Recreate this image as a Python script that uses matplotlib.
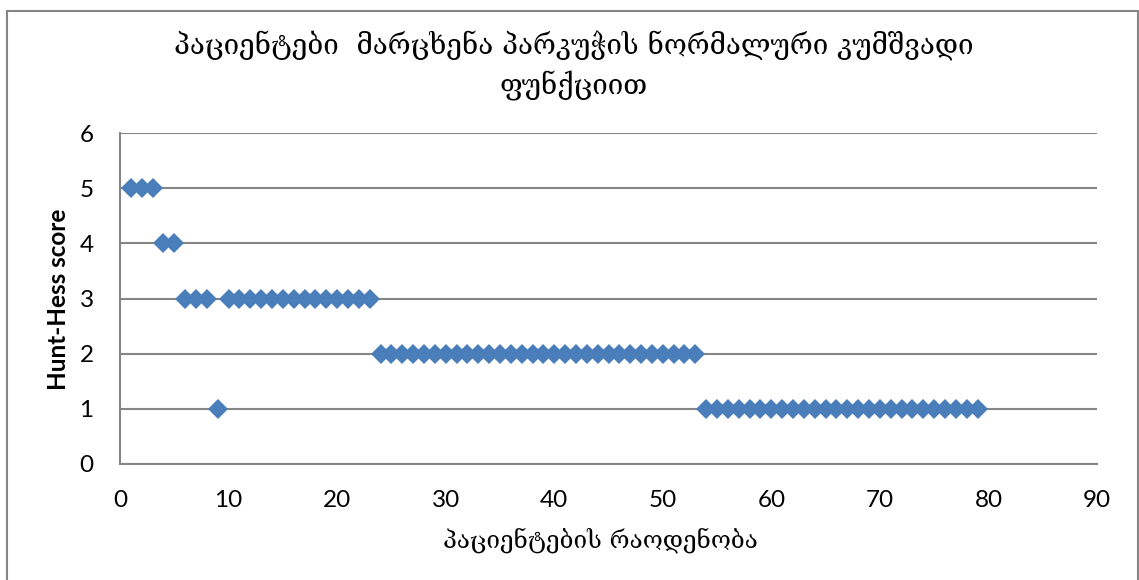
import matplotlib
matplotlib.use('Agg')
import matplotlib.pyplot as plt
from matplotlib.patches import Rectangle

# patient index and Hunt-Hess score
patients = list(range(1, 80))
scores = ([5, 5, 5] + [4, 4] + [3, 3, 3] + [1] + [3] * 14 +
          [2] * 30 + [1] * 26)

title = 'პაციენტები  მარცხენა პარკუჭის ნორმალური კუმშვადი\nფუნქციით'
xlabel = 'პაციენტების რაოდენობა'
ylabel = 'Hunt-Hess score'

W, H = 1139, 580
fig = plt.figure(figsize=(W / 100, H / 100), dpi=100)
ax = fig.add_axes([120 / W, 1 - 464 / H, (1097 - 120) / W, (464 - 133) / H])

grid_col = '#868686'
ax.set_xlim(0, 90)
ax.set_ylim(0, 6)
ax.set_xticks(range(0, 91, 10))
ax.set_yticks(range(0, 7))
ax.grid(axis='y', color=grid_col, lw=1.5)
ax.set_axisbelow(True)
for s in ['top', 'right']:
    ax.spines[s].set_visible(False)
for s in ['left', 'bottom']:
    ax.spines[s].set_color(grid_col)
    ax.spines[s].set_linewidth(1.5)
ax.tick_params(length=0, labelsize=17.5)
ax.tick_params(axis='x', pad=19)
ax.tick_params(axis='y', pad=19)
for lab in ax.get_xticklabels() + ax.get_yticklabels():
    lab.set_family('Lato')

ax.plot(patients, scores, ls='none', marker='D', ms=10.5, mew=0,
        color='#4a7ebb', clip_on=False)

fig.text(58 / W, 1 - 299 / H, ylabel, rotation=90, ha='center', va='center',
         family='Lato', weight='bold', fontsize=17.5)
fig.text(574 / W, 1 - 66 / H, title, ha='center', va='center',
         fontsize=20, family='DejaVu Serif', linespacing=1.4)
fig.text(600 / W, 1 - 540 / H, xlabel, ha='center', va='center',
         fontsize=17.5, family='DejaVu Serif')

# chart area border
fig.patches.append(Rectangle((7 / W, -0.05), (1138 - 7) / W, 1 - 11 / H + 0.05,
                             transform=fig.transFigure, fill=False,
                             ec=grid_col, lw=1.5))

fig.savefig('out.png', dpi=100)
